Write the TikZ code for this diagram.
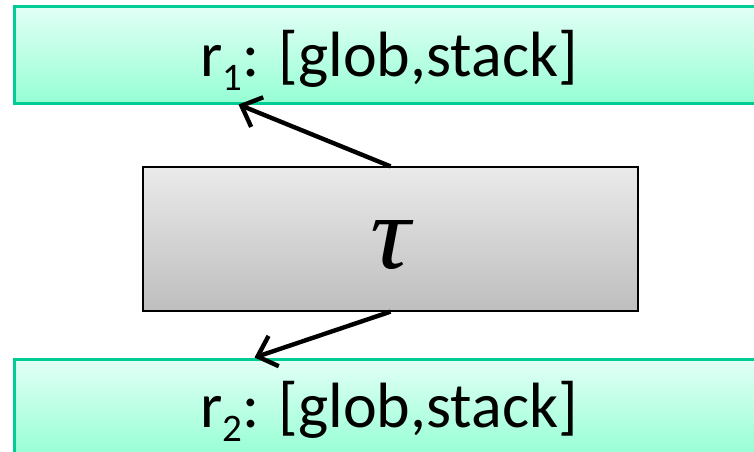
\documentclass[tikz,border=0pt]{standalone}
\usepackage{fontspec}
\setmainfont{Carlito}
\newfontfamily\taufont{Liberation Serif}
\usetikzlibrary{arrows.meta,calc}
\definecolor{regline}{RGB}{0,204,150}
\definecolor{regtop}{RGB}{226,255,246}
\definecolor{regbot}{RGB}{150,255,212}
\definecolor{optop}{RGB}{234,234,234}
\definecolor{opbot}{RGB}{190,190,190}
% lowered small index after a register name
\newcommand{\regidx}[1]{\raisebox{-0.23em}{\fontsize{39}{39}\selectfont #1}}
\tikzset{
  regbox/.style={draw=regline, line width=3pt, top color=regtop, bottom color=regbot,
    minimum width=746pt, minimum height=97pt, inner sep=0pt},
  regtext/.style={anchor=base west, inner sep=0pt, font=\fontsize{64}{64}\selectfont},
  opbox/.style={draw=black, line width=1.3pt, top color=optop, bottom color=opbot,
    minimum width=495pt, minimum height=144pt, inner sep=0pt},
  flow/.style={line width=4.4pt, -{Straight Barb[length=17pt,width=32pt,line width=4.4pt]}}
}
\begin{document}
\begin{tikzpicture}[x=1pt,y=-1pt]
  \useasboundingbox (0,0) rectangle (754,451);
  \clip (0,0) rectangle (754,451);
  % register boxes
  \node[regbox] (r1) at (387,54.5) {};
  \node[regbox] (r2) at (387,407.5) {};
  \node[regtext] (t1) at (200,76) {r\regidx{1}: [glob,stack]};
  \node[regtext] (t2) at (200,427) {r\regidx{2}: [glob,stack]};
  % transformer box
  \node[opbox] (tau) at (390.5,239) {};
  \node[inner sep=0pt] (taul) at (390,245) {\resizebox{40pt}{48pt}{\taufont\itshape τ}};
  % arrow ends on the register boxes
  \coordinate (e1) at ($(r1.south west)+(226,0)$);
  \coordinate (e2) at ($(r2.north west)+(242,0)$);
  \draw[flow] (tau.north) -- (e1);
  \draw[flow] (tau.south) -- (e2);
\end{tikzpicture}
\end{document}
